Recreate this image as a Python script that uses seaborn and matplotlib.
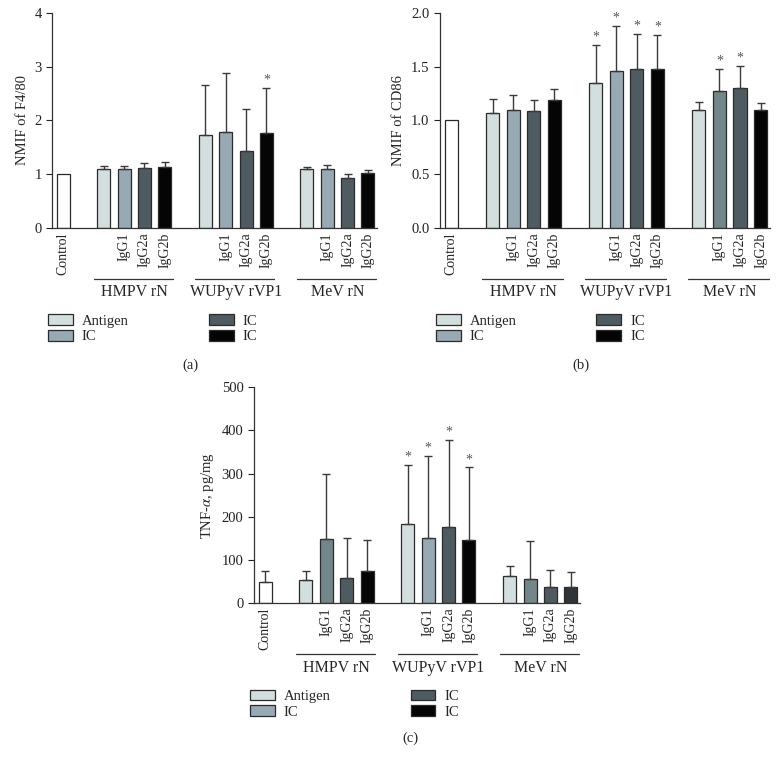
import matplotlib
matplotlib.use('Agg')
import matplotlib.pyplot as plt
import matplotlib.transforms as mtransforms
from matplotlib.patches import Patch
import seaborn as sns
import pandas as pd

# bar order: Control, then Antigen/IgG1/IgG2a/IgG2b for each antigen group
groups = ['HMPV rN', 'WUPyV rVP1', 'MeV rN']
bar_names = ['Control',
             'Antigen', 'IgG1', 'IgG2a', 'IgG2b',
             'Antigen', 'IgG1', 'IgG2a', 'IgG2b',
             'Antigen', 'IgG1', 'IgG2a', 'IgG2b']
positions = [0, 2, 3, 4, 5, 7, 8, 9, 10, 12, 13, 14, 15]

f480_mean = [1.00, 1.09, 1.10, 1.11, 1.14, 1.73, 1.78, 1.44, 1.77, 1.10, 1.09, 0.93, 1.02]
f480_err = [0.00, 0.06, 0.06, 0.09, 0.09, 0.93, 1.11, 0.77, 0.83, 0.03, 0.08, 0.07, 0.05]
f480_star = [0, 0, 0, 0, 0, 0, 0, 0, 1, 0, 0, 0, 0]

cd86_mean = [1.00, 1.07, 1.10, 1.09, 1.19, 1.345, 1.46, 1.475, 1.48, 1.10, 1.277, 1.30, 1.10]
cd86_err = [0.00, 0.13, 0.14, 0.10, 0.10, 0.355, 0.42, 0.33, 0.32, 0.07, 0.20, 0.205, 0.06]
cd86_star = [0, 0, 0, 0, 0, 1, 1, 1, 1, 0, 1, 1, 0]

tnf_mean = [48, 53, 149, 59, 74, 184, 150, 177, 146, 62, 56, 36, 37]
tnf_err = [25, 20, 151, 91, 71, 135, 191, 200, 168, 24, 88, 40, 35]
tnf_star = [0, 0, 0, 0, 0, 1, 1, 1, 1, 0, 0, 0, 0]

legend_labels = ['Antigen', 'IC', 'IC', 'IC']

base_colors = ['#ffffff', '#d3dedf', '#97aab3', '#4e5c61', '#050505',
               '#d3dedf', '#97aab3', '#4e5c61', '#050505',
               '#d3dedf', '#97aab3', '#4e5c61', '#050505']

sns.set_style('ticks')
plt.rcParams['font.family'] = ['Liberation Serif', 'DejaVu Serif']
plt.rcParams['mathtext.fontset'] = 'stix'


def draw_panel(ax, mean, err, star, colors, ylabel, ylim, yticks, ytick_fmt):
    df = pd.DataFrame({'pos': positions, 'val': mean})
    sns.barplot(data=df, x='pos', y='val', native_scale=True, width=0.64,
                color='white', edgecolor='#2a2a2a', linewidth=0.9, errorbar=None, ax=ax)
    for patch, c in zip(ax.patches, colors):
        patch.set_facecolor(c)
    # one-sided error bars, skip bars without error
    ex = [p for p, e in zip(positions, err) if e > 0]
    ey = [m for m, e in zip(mean, err) if e > 0]
    ee = [e for e in err if e > 0]
    ax.errorbar(ex, ey, yerr=[[0] * len(ee), ee], fmt='none', ecolor='#3a3a3a',
                elinewidth=1.0, capsize=3.2, capthick=1.0, zorder=1)
    for x, m, e, s in zip(positions, mean, err, star):
        if s:
            ax.annotate('*', (x, m + e), xytext=(0, 1), textcoords='offset points',
                        ha='center', va='bottom', fontsize=10, color='#555555')
    ax.set_xlim(-0.55, 15.45)
    ax.set_ylim(*ylim)
    ax.set_yticks(yticks)
    ax.set_yticklabels([ytick_fmt.format(t) for t in yticks], fontsize=10.5)
    ax.set_ylabel(ylabel, fontsize=10.5)
    tick_pos = [0, 3, 4, 5, 8, 9, 10, 13, 14, 15]
    tick_lab = ['Control', 'IgG1', 'IgG2a', 'IgG2b', 'IgG1', 'IgG2a', 'IgG2b', 'IgG1', 'IgG2a', 'IgG2b']
    ax.set_xticks(tick_pos)
    ax.set_xticklabels(tick_lab, rotation=90, fontsize=10, va='top')
    ax.set_xlabel('')
    ax.tick_params(axis='x', length=0, pad=3)
    ax.tick_params(axis='y', length=4, width=0.8, colors='#222222', direction='out')
    sns.despine(ax=ax)
    for sp in ['left', 'bottom']:
        ax.spines[sp].set_color('#333333')
        ax.spines[sp].set_linewidth(0.9)

    trans = mtransforms.blended_transform_factory(ax.transData, ax.transAxes)
    for g, start in zip(groups, [2, 7, 12]):
        ax.plot([start - 0.5, start + 3.4], [-0.237, -0.237], transform=trans,
                color='#333333', lw=0.9, clip_on=False)
        ax.text(start + 1.5, -0.30, g, transform=trans, ha='center', va='center', fontsize=11.5)

    handles = [Patch(facecolor=c, edgecolor='#2a2a2a', linewidth=0.9) for c in base_colors[1:5]]
    ax.legend(handles, legend_labels, ncol=2, loc='upper left', bbox_to_anchor=(-0.03, -0.375),
              frameon=False, fontsize=10.5, handlelength=1.7, handleheight=0.75,
              handletextpad=0.6, columnspacing=5.5, labelspacing=0.15, borderaxespad=0)


fig = plt.figure(figsize=(7.8, 7.65), dpi=100)
ax_a = fig.add_axes([0.0667, 0.702, 0.4167, 0.281])
ax_b = fig.add_axes([0.564, 0.702, 0.423, 0.281])
ax_c = fig.add_axes([0.3256, 0.2118, 0.418, 0.282])

colors_b = list(base_colors)
colors_b[10] = '#738689'
colors_c = list(base_colors)
colors_c[2] = '#738689'
colors_c[10] = '#738689'
colors_c[12] = '#2e3438'

draw_panel(ax_a, f480_mean, f480_err, f480_star, base_colors, 'NMIF of F4/80',
           (0, 4), [0, 1, 2, 3, 4], '{:g}')
draw_panel(ax_b, cd86_mean, cd86_err, cd86_star, colors_b, 'NMIF of CD86',
           (0, 2), [0, 0.5, 1.0, 1.5, 2.0], '{:.1f}')
draw_panel(ax_c, tnf_mean, tnf_err, tnf_star, colors_c, r'TNF-$\alpha$, pg/mg',
           (0, 500), [0, 100, 200, 300, 400, 500], '{:g}')

fig.text(190 / 780, 1 - 365 / 765, '(a)', ha='center', va='center', fontsize=10.5)
fig.text(581 / 780, 1 - 365 / 765, '(b)', ha='center', va='center', fontsize=10.5)
fig.text(410 / 780, 1 - 738 / 765, '(c)', ha='center', va='center', fontsize=10.5)

fig.savefig('out.png', dpi=100)
